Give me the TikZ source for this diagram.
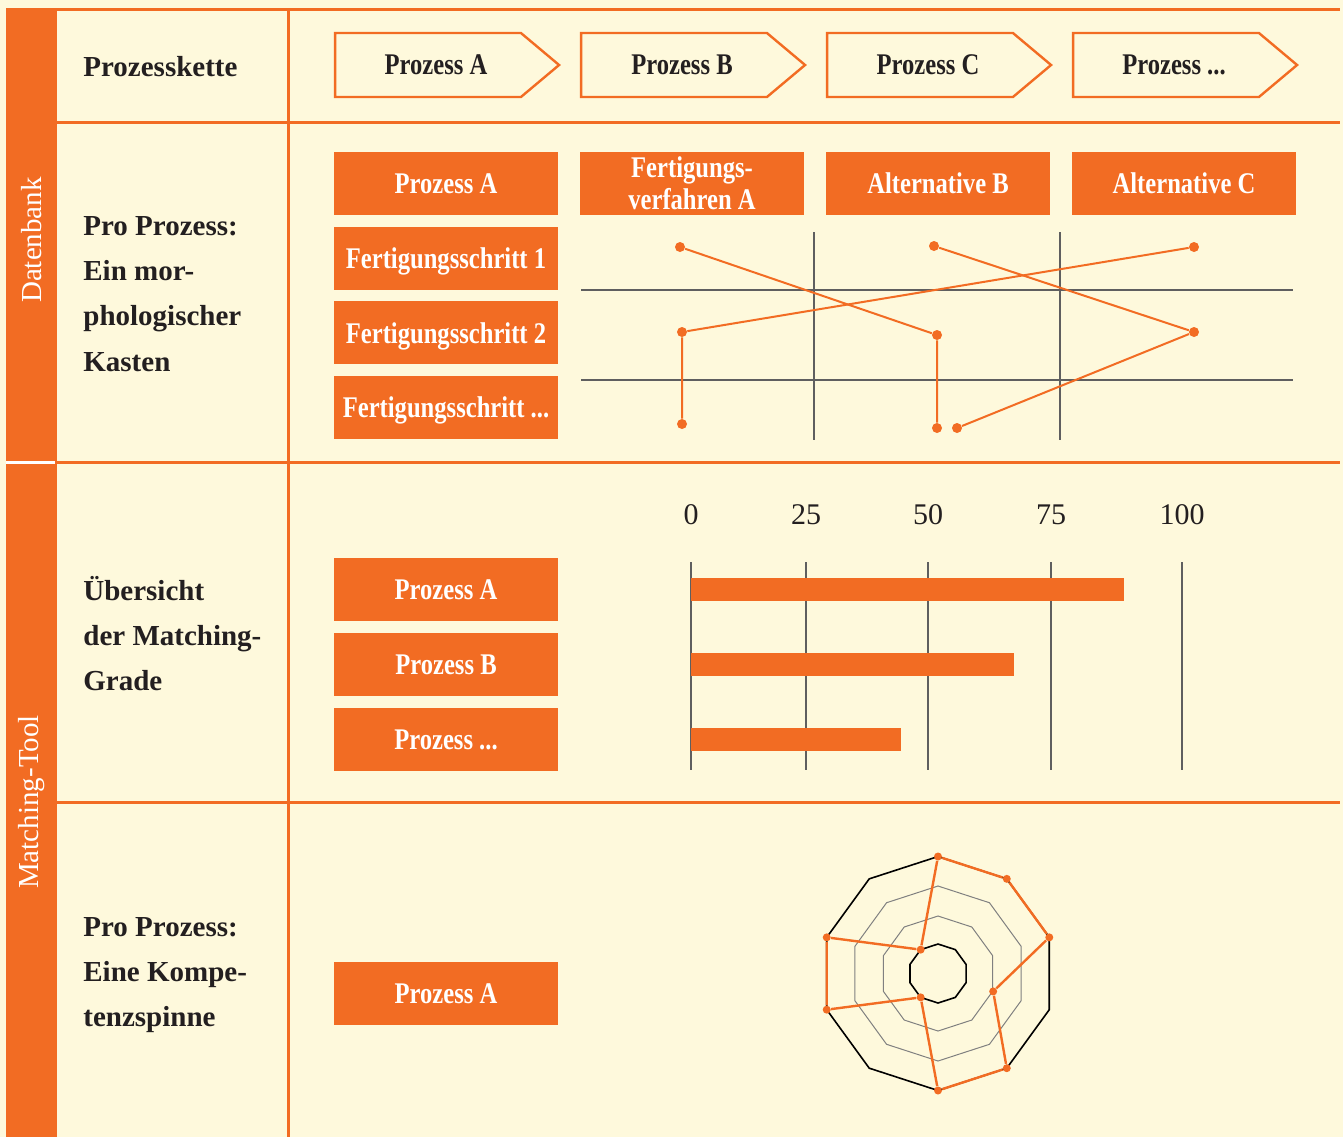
\documentclass[tikz,border=0pt]{standalone}
\usepackage{fontspec}
\setmainfont{Liberation Serif}
\newfontfamily\condfont[FakeStretch=0.82]{Liberation Serif}
\usetikzlibrary{positioning,shapes.symbols}
\definecolor{cream}{RGB}{254,249,220}
\definecolor{orng}{RGB}{242,108,35}
\definecolor{gridgray}{RGB}{95,95,95}
\definecolor{ink}{RGB}{35,31,32}

\begin{document}
\begin{tikzpicture}[x=0.5pt,y=-0.5pt]
		\tikzstyle{boxo} = [fill=orng, text=white, minimum width=112pt, minimum height=31.5pt, inner sep=0pt, outer sep=0pt, text depth=0pt, align=center, font=\condfont\bfseries\fontsize{15}{16}\selectfont]
		\tikzstyle{chev} = [signal, signal to=east, signal pointer angle=80, draw=orng, line width=1.2pt, minimum width=112pt, minimum height=32pt, inner sep=0pt, outer sep=0pt, text=ink, font=\condfont\bfseries\fontsize{15}{16}\selectfont, execute at begin node=\hspace*{8pt}]
		\tikzstyle{head} = [anchor=west, align=left, inner sep=0pt, text=ink, font=\bfseries\fontsize{14.5}{22.6}\selectfont]
		\tikzstyle{band} = [rotate=90, text=white, font=\fontsize{14.5}{16}\selectfont]
		\tikzstyle{frame} = [draw=orng, line width=1.5pt]
		\tikzstyle{gridline} = [draw=gridgray, line width=0.7pt]
		\tikzstyle{link} = [draw=orng, line width=1pt]
		\tikzstyle{dot} = [circle, fill=orng, inner sep=0pt, minimum size=5pt]
		\tikzstyle{sdot} = [circle, fill=orng, inner sep=0pt, minimum size=4pt]
		\tikzstyle{axnum} = [text=ink, font=\fontsize{15}{16}\selectfont]

		% Background and frame
		\fill[cream] (0,0) rectangle (1343,1137);
		\useasboundingbox (0,0) rectangle (1343,1137);
		\fill[orng] (6,9) rectangle (57,1137);
		\draw[white, line width=1.5pt] (6,462) -- (55,462);
		\draw[frame] (6,9) -- (1340,9);
		\foreach \y in {122,462,802} {
			\draw[frame] (57,\y) -- (1340,\y);
		}
		\draw[frame] (288,9) -- (288,1137);
		\node[band] (dbank) at (32,240) {Datenbank};
		\node[band] (mtool) at (32,802) {Matching-Tool};

		% Row headings
		\node[head] (hkette) at (83,67) {Prozesskette};
		\node[head] (hmorph) at (83,294) {Pro Prozess:\\Ein mor-\\phologischer\\Kasten};
		\node[head] (hmatch) at (83,633.5) {Übersicht\\der Matching-\\Grade};
		\node[head] (hspin) at (83,975) {Pro Prozess:\\Eine Kompe-\\tenzspinne};

		% Process chain
		\node[chev] (pa) at (428,65) {Prozess A};
		\node[chev] (pb) [right=11pt of pa] {Prozess B};
		\node[chev] (pc) [right=11pt of pb] {Prozess C};
		\node[chev] (pd) [right=11pt of pc] {Prozess ...};

		% Morphological box
		\node[boxo] (kp) at (446,183.5) {Prozess A};
		\node[boxo] (kf) [right=11pt of kp] {Fertigungs-\\verfahren A};
		\node[boxo] (kb) [right=11pt of kf] {Alternative B};
		\node[boxo] (kc) [right=11pt of kb] {Alternative C};
		\node[boxo] (s1) [below=5.8pt of kp] {Fertigungsschritt 1};
		\node[boxo] (s2) [below=5.8pt of s1] {Fertigungsschritt 2};
		\node[boxo] (s3) [below=5.8pt of s2] {Fertigungsschritt ...};

		\draw[gridline] (581,290) -- (1293,290);
		\draw[gridline] (581,380) -- (1293,380);
		\draw[gridline] (814,232) -- (814,440);
		\draw[gridline] (1060,232) -- (1060,440);

		\node[dot] (a1) at (680,247) {};
		\node[dot] (b1) at (934,246) {};
		\node[dot] (c1) at (1194,247) {};
		\node[dot] (a2) at (682,332) {};
		\node[dot] (b2) at (937,335) {};
		\node[dot] (c2) at (1194,332) {};
		\node[dot] (a3) at (682,424) {};
		\node[dot] (b3) at (937,428) {};
		\node[dot] (c3) at (957,428) {};

		\draw[link] (a1) -- (b2) -- (b3);
		\draw[link] (c1) -- (a2) -- (a3);
		\draw[link] (b1) -- (c2) -- (c3);

		% Matching grades
		\node[boxo] (ma) at (446,589.5) {Prozess A};
		\node[boxo] (mb) [below=6pt of ma] {Prozess B};
		\node[boxo] (mc) [below=6pt of mb] {Prozess ...};

		\foreach \v/\x in {0/691,25/806,50/928,75/1051,100/1182} {
			\node[axnum] (t\v) at (\x,515) {\v};
			\draw[gridline] (\x,562) -- (\x,770);
		}
		\fill[orng] (691,578) rectangle (1124,601);
		\fill[orng] (691,653) rectangle (1014,676);
		\fill[orng] (691,728) rectangle (901,751);

		% Competence spider
		\node[boxo] (sa) at (446,993.5) {Prozess A};
		\begin{scope}[shift={(938,973.5)}, yscale=-1]
			\foreach \r/\c/\w in {117/black/0.8pt, 87.5/gray/0.5pt, 57.5/gray/0.5pt, 29.5/black/0.8pt} {
				\draw[\c, line width=\w] (90:\r) \foreach \k in {1,...,9} {-- (90-36*\k:\r)} -- cycle;
			}
			\foreach \n/\a/\r in {1/90/117, 2/54/117, 3/18/117, 4/-18/58, 5/-54/117, 6/-90/117, 7/-126/29.5, 8/-162/117, 9/162/117, 10/126/29.5} {
				\node[sdot] (q\n) at (\a:\r) {};
			}
			\draw[link, line width=1.2pt] (q1) -- (q2) -- (q3) -- (q4) -- (q5) -- (q6) -- (q7) -- (q8) -- (q9) -- (q10) -- (q1);
		\end{scope}

\end{tikzpicture}
\end{document}
